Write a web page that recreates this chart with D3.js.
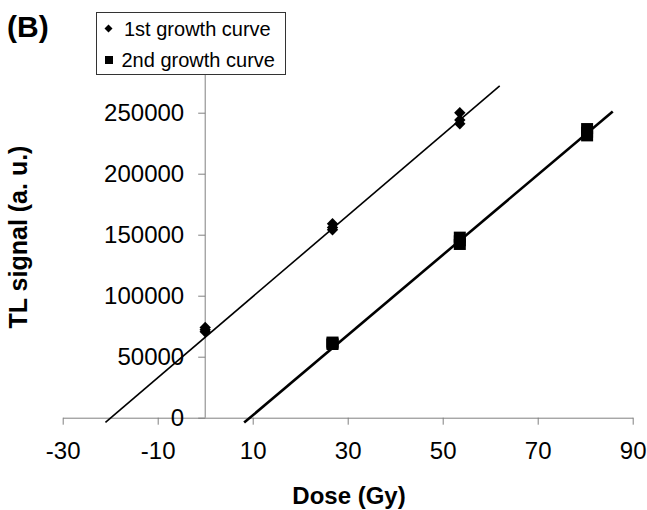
<!DOCTYPE html>
<html>
<head>
<meta charset="utf-8">
<script src="https://cdn.jsdelivr.net/npm/d3@7"></script>
<style>
  body { margin: 0; background: #fff; }
  text { font-family: "Liberation Sans", Arial, sans-serif; }
</style>
</head>
<body>
<div id="chart"></div>
<script>
// Data
var dose1 = [0, 0, 0, 26.8, 26.8, 26.8, 53.6, 53.6, 53.6];
var signal1 = [74000, 72000, 70500, 159000, 156000, 154000, 250000, 244000, 241000];
var dose2 = [26.8, 26.8, 26.8, 53.6, 53.6, 53.6, 80.4, 80.4, 80.4];
var signal2 = [62000, 61000, 60000, 148000, 145000, 142000, 237000, 234000, 231000];

// trend lines (start / end, data units)
var trend1X = [-21, 62];
var trend1Y = [-3800, 272000];
var trend2X = [8.2, 85.8];
var trend2Y = [-4000, 251000];

var xTicks = [-30, -10, 10, 30, 50, 70, 90];
var yTicks = [0, 50000, 100000, 150000, 200000, 250000];
var seriesNames = ["1st growth curve", "2nd growth curve"];

var svgWidth = 647;
var svgHeight = 510;

var svg = d3.select("#chart")
    .append("svg")
    .attr("width", svgWidth)
    .attr("height", svgHeight);

var xScale = d3.scaleLinear().domain([-30, 90]).range([62.7, 632.7]);
var yScale = d3.scaleLinear().domain([0, 250000]).range([417.7, 112.7]);

// diamond = square turned 45 degrees
var diamond = {
    draw: function (ctx, size) {
        var r = Math.sqrt(size) / 2;
        ctx.moveTo(0, -r);
        ctx.lineTo(r, 0);
        ctx.lineTo(0, r);
        ctx.lineTo(-r, 0);
        ctx.closePath();
    }
};

// plain hyphen for negatives, like the original
var plain = d => String(d);

// x axis at y = 0
var xAxis = svg.append("g")
    .attr("transform", `translate(0, ${yScale(0)})`)
    .call(d3.axisBottom(xScale).tickValues(xTicks).tickSize(7).tickSizeOuter(0).tickPadding(12)
        .tickFormat(plain));

// y axis at x = 0
var yAxis = svg.append("g")
    .attr("transform", `translate(${xScale(0)}, 0)`)
    .call(d3.axisLeft(yScale).tickValues(yTicks).tickSize(7).tickSizeOuter(0).tickPadding(14)
        .tickFormat(plain));

yAxis.select(".domain").attr("d", `M0,${yScale(0)}V${yScale(300000)}`);

[xAxis, yAxis].forEach(function (ax) {
    ax.select(".domain").attr("stroke", "#808080").attr("stroke-width", 1);
    ax.selectAll(".tick line").attr("stroke", "#808080");
    ax.selectAll(".tick text")
        .attr("fill", "#000")
        .style("font-size", "24px")
        .style("font-family", "'Liberation Sans', Arial, sans-serif");
});
xAxis.selectAll(".tick text").attr("dy", "0.95em");

// trend lines
var line = d3.line()
    .x(d => xScale(d[0]))
    .y(d => yScale(d[1]));

svg.append("path")
    .datum(d3.zip(trend1X, trend1Y))
    .attr("d", line)
    .attr("fill", "none")
    .attr("stroke", "#000")
    .attr("stroke-width", 1.6);

svg.append("path")
    .datum(d3.zip(trend2X, trend2Y))
    .attr("d", line)
    .attr("fill", "none")
    .attr("stroke", "#000")
    .attr("stroke-width", 2.6);

// markers
svg.selectAll(".pt1")
    .data(d3.zip(dose1, signal1))
    .enter()
    .append("path")
    .attr("class", "pt1")
    .attr("transform", d => `translate(${xScale(d[0])}, ${yScale(d[1])})`)
    .attr("d", d3.symbol(diamond, 130))
    .attr("fill", "#000");

svg.selectAll(".pt2")
    .data(d3.zip(dose2, signal2))
    .enter()
    .append("rect")
    .attr("class", "pt2")
    .attr("x", d => xScale(d[0]) - 6)
    .attr("y", d => yScale(d[1]) - 5.5)
    .attr("width", 12)
    .attr("height", 11)
    .attr("fill", "#000");

// legend
var legend = svg.append("g");
legend.append("rect")
    .attr("x", 96.5)
    .attr("y", 12.5)
    .attr("width", 189)
    .attr("height", 62)
    .attr("fill", "#fff")
    .attr("stroke", "#333")
    .attr("stroke-width", 1);

legend.append("path")
    .attr("transform", "translate(108.5, 28.5)")
    .attr("d", d3.symbol(diamond, 64))
    .attr("fill", "#000");
legend.append("rect")
    .attr("x", 105)
    .attr("y", 56)
    .attr("width", 8)
    .attr("height", 8)
    .attr("fill", "#000");

legend.selectAll(".legtext")
    .data(seriesNames)
    .enter()
    .append("text")
    .attr("class", "legtext")
    .attr("x", (d, i) => i === 0 ? 124 : 121.5)
    .attr("y", (d, i) => 35.5 + i * 31.5)
    .style("font-size", "20px")
    .text(d => d);

// panel label
svg.append("text")
    .attr("x", 7)
    .attr("y", 37)
    .style("font-size", "30px")
    .style("font-weight", "bold")
    .text("(B)");

// axis titles
svg.append("text")
    .attr("x", 349)
    .attr("y", 504)
    .attr("text-anchor", "middle")
    .style("font-size", "24px")
    .style("font-weight", "bold")
    .text("Dose (Gy)");

svg.append("text")
    .attr("transform", "translate(27, 237) rotate(-90)")
    .attr("text-anchor", "middle")
    .style("font-size", "25px")
    .style("font-weight", "bold")
    .text("TL signal (a. u.)");
</script>
</body>
</html>
